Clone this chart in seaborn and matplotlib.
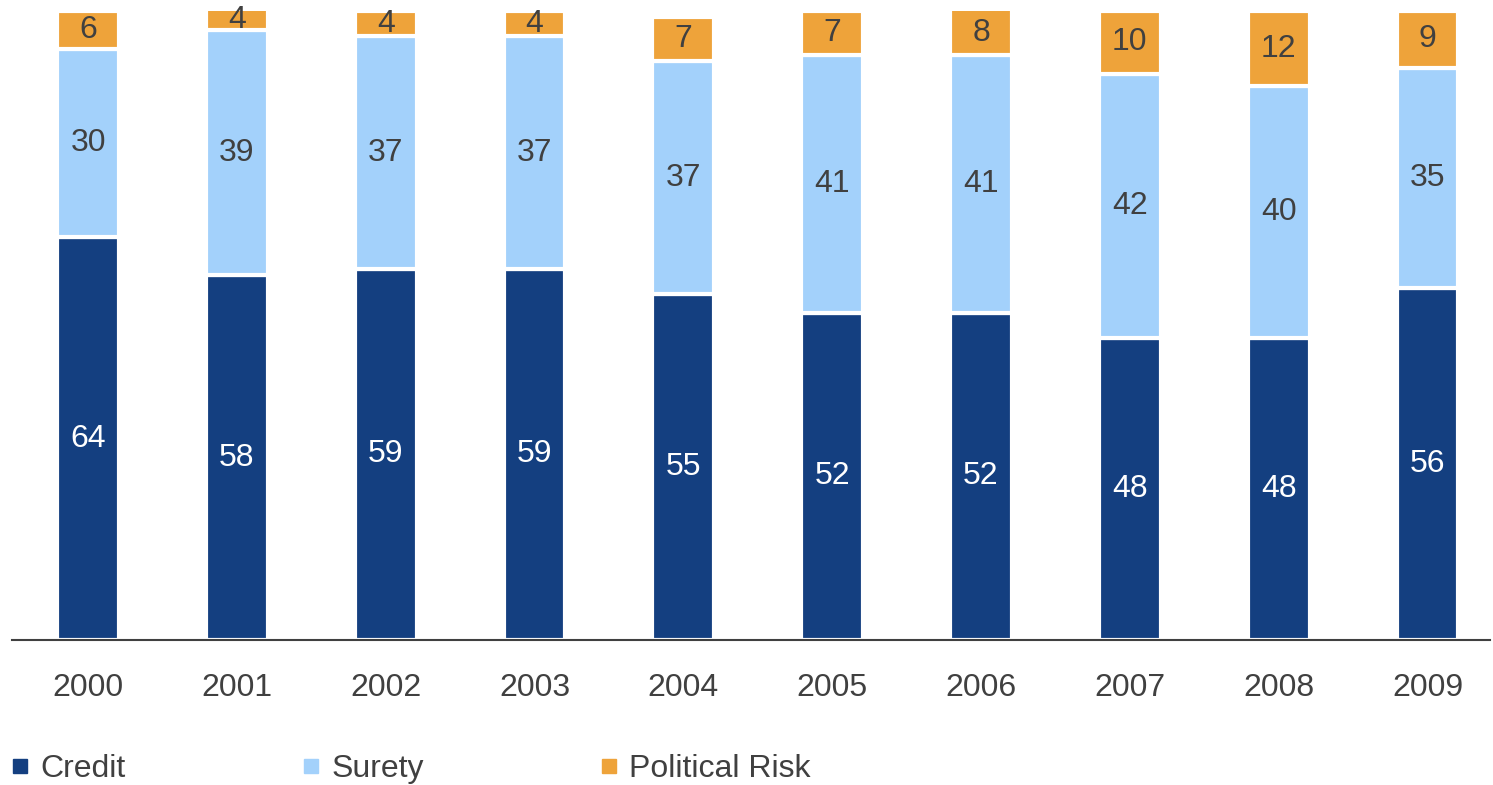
import numpy as np
import matplotlib
matplotlib.use("Agg")
import matplotlib.pyplot as plt
from matplotlib.lines import Line2D
import seaborn as sns

years = ["2000", "2001", "2002", "2003", "2004", "2005", "2006", "2007", "2008", "2009"]
credit = [64, 58, 59, 59, 55, 52, 52, 48, 48, 56]
surety = [30, 39, 37, 37, 37, 41, 41, 42, 40, 35]
political = [6, 4, 4, 4, 7, 7, 8, 10, 12, 9]

series_names = ["Credit", "Surety", "Political Risk"]
colors = ["#143F80", "#A3D1FB", "#EEA33A"]
label_colors = ["white", "#404040", "#404040"]

sns.set_theme(style="white")
plt.rcParams["font.family"] = ["Liberation Sans", "DejaVu Sans"]

fig = plt.figure(figsize=(14.93, 7.85), dpi=100)
ax = fig.add_axes([12 / 1493, 1 - 640 / 785, (1490 - 12) / 1493, 629 / 785])

bottom = np.zeros(len(years))
for name, vals, col in zip(series_names, [credit, surety, political], colors):
    vals = np.asarray(vals, dtype=float)
    sns.barplot(x=years, y=vals, color=col, saturation=1, width=0.415,
                bottom=bottom, edgecolor="white", linewidth=3,
                errorbar=None, ax=ax)
    bottom = bottom + vals

for cont, vals, tc in zip(ax.containers, [credit, surety, political], label_colors):
    ax.bar_label(cont, labels=[str(v) for v in vals], label_type="center",
                 color=tc, fontsize=23)

ax.set_xlim(-0.511, 9.42)
ax.set_ylim(0, 100)
ax.set_yticks([])
ax.set_xlabel("")
ax.set_ylabel("")
for s in ["top", "right", "left"]:
    ax.spines[s].set_visible(False)
ax.spines["bottom"].set_color("#404040")
ax.spines["bottom"].set_linewidth(1.5)
ax.spines["bottom"].set_zorder(5)
ax.tick_params(axis="x", length=0, pad=24, labelsize=23, labelcolor="#404040")

handles = [Line2D([], [], marker="s", linestyle="", color=c, markersize=10)
           for c in colors]
fig.legend(handles, series_names, loc="center left",
           bbox_to_anchor=(10.5 / 1493, 1 - 769 / 785), ncol=3, frameon=False,
           fontsize=23, labelcolor="#404040", handlelength=0.6,
           handletextpad=0.35, columnspacing=5.48, borderpad=0, borderaxespad=0)

fig.savefig("out.png", dpi=100, facecolor="white")
